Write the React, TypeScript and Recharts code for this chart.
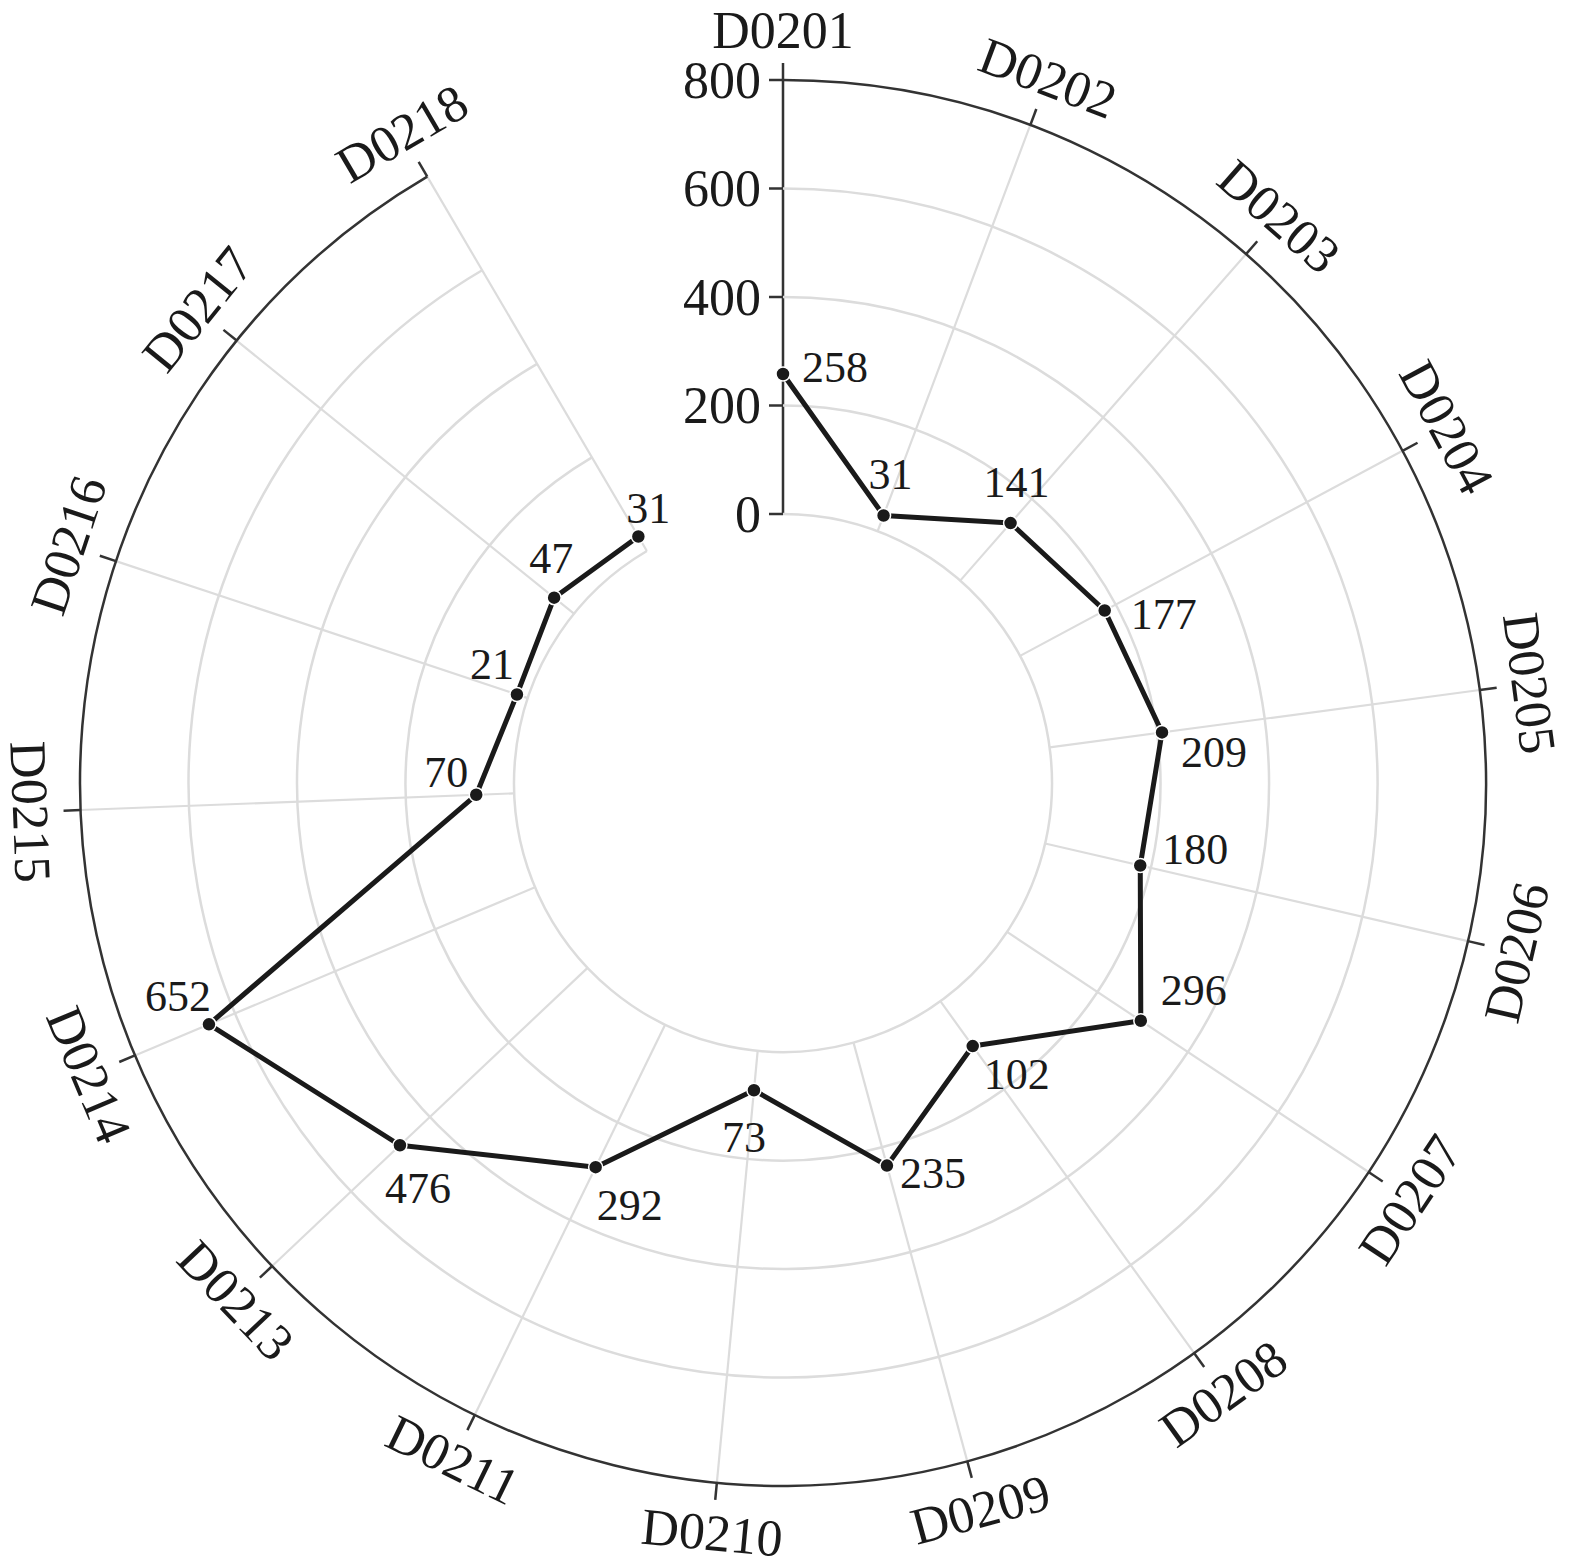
import React from 'react';
import { RadarChart, Radar, PolarGrid, PolarAngleAxis, PolarRadiusAxis } from 'recharts';

const CATEGORIES = [
  'D0201', 'D0202', 'D0203', 'D0204', 'D0205', 'D0206', 'D0207', 'D0208', 'D0209',
  'D0210', 'D0211', 'D0213', 'D0214', 'D0215', 'D0216', 'D0217', 'D0218',
];
const VALUES = [258, 31, 141, 177, 209, 180, 296, 102, 235, 73, 292, 476, 652, 70, 21, 47, 31];
const RADIUS_TICKS = [0, 200, 400, 600, 800];

// where each value label sits relative to its point, [dx, dy]
const LABEL_OFFSETS = [
  [52, -7], [7, -41], [6, -41], [59, 4], [52, 20], [55, -16], [53, -30], [44, 28], [46, 8],
  [-10, 47], [34, 38], [18, 43], [-31, -28], [-30, -22], [-25, -30], [-3, -39], [10, -28],
];

const data = CATEGORIES.map((name, i) => ({ name, value: VALUES[i] }));

const W = 1575;
const H = 1567;
const CX = 783;
const CY = 783;
const INNER = 269;
const OUTER = 703;
const STEP = 20.6;
const START = 90;
const END = START - STEP * CATEGORIES.length;
const LAST_BEARING = STEP * (CATEGORIES.length - 1);
const FONT = '"Liberation Serif", "Times New Roman", serif';
const INK = '#1a1a1a';

function RadiusTick(props: any) {
  const { x, y, payload } = props;
  const r = CY - y;
  const b = (LAST_BEARING * Math.PI) / 180;
  const ex = CX + r * Math.sin(b);
  const ey = CY - r * Math.cos(b);
  const isOuter = payload.value === RADIUS_TICKS[RADIUS_TICKS.length - 1];
  return (
    <g>
      <path
        d={`M ${CX} ${CY - r} A ${r} ${r} 0 1 1 ${ex} ${ey}`}
        fill="none"
        stroke={isOuter ? '#333' : '#dcdcdc'}
        strokeWidth={2.5}
      />
      <line x1={x - 14} y1={y} x2={x} y2={y} stroke="#333" strokeWidth={2.5} />
      <text x={x - 22} y={y} dy="0.34em" textAnchor="end" fontSize={52} fontFamily={FONT} fill={INK}>
        {payload.value}
      </text>
    </g>
  );
}

function AngleTick(props: any) {
  const { payload } = props;
  const bearing = (((90 - payload.coordinate) % 360) + 360) % 360;
  const rad = (bearing * Math.PI) / 180;
  const s = Math.sin(rad);
  const c = Math.cos(rad);
  const lx = CX + (OUTER + 50) * s;
  const ly = CY - (OUTER + 50) * c;
  const rot = bearing > 90 && bearing < 270 ? bearing - 180 : bearing;
  return (
    <g>
      <line
        x1={CX + OUTER * s}
        y1={CY - OUTER * c}
        x2={CX + (OUTER + 17) * s}
        y2={CY - (OUTER + 17) * c}
        stroke="#333"
        strokeWidth={2.5}
      />
      <text
        x={lx}
        y={ly}
        transform={`rotate(${rot} ${lx} ${ly})`}
        textAnchor="middle"
        dominantBaseline="central"
        fontSize={52}
        fontFamily={FONT}
        fill={INK}
      >
        {payload.value}
      </text>
    </g>
  );
}

// open line (no segment back from D0218 to D0201), dots and value labels
function RadarShape(props: any) {
  const pts = props.points || [];
  const d = pts.map((p: any, i: number) => `${i ? 'L' : 'M'} ${p.x} ${p.y}`).join(' ');
  return (
    <g>
      <path d={d} fill="none" stroke={INK} strokeWidth={5} strokeLinejoin="round" />
      {pts.map((p: any, i: number) => (
        <circle key={`d${i}`} cx={p.x} cy={p.y} r={7} fill={INK} stroke="#fff" strokeWidth={1.5} />
      ))}
      {pts.map((p: any, i: number) => (
        <text
          key={`t${i}`}
          x={p.x + LABEL_OFFSETS[i][0]}
          y={p.y + LABEL_OFFSETS[i][1]}
          textAnchor="middle"
          dominantBaseline="central"
          fontSize={44}
          fontFamily={FONT}
          fill={INK}
        >
          {p.value ?? p.payload?.value}
        </text>
      ))}
    </g>
  );
}

export default function App() {
  return (
    <div style={{ width: W, height: H, background: '#fff' }}>
      <style>{'body{margin:0}'}</style>
      <RadarChart
        width={W}
        height={H}
        data={data}
        cx={CX}
        cy={CY}
        innerRadius={INNER}
        outerRadius={OUTER}
        startAngle={START}
        endAngle={END}
      >
        <PolarGrid gridType="circle" polarRadius={[]} stroke="#dcdcdc" strokeWidth={2.2} />
        <PolarAngleAxis dataKey="name" tick={AngleTick} tickLine={false} axisLine={false} />
        <PolarRadiusAxis
          angle={90}
          domain={[0, 800]}
          ticks={RADIUS_TICKS}
          tickCount={5}
          axisLine={{ stroke: '#333', strokeWidth: 2.5 }}
          tick={RadiusTick}
          zIndex={-50}
        />
        <Radar
          dataKey="value"
          shape={RadarShape}
          dot={false}
          isAnimationActive={false}
          zIndex={1500}
        />
      </RadarChart>
    </div>
  );
}
